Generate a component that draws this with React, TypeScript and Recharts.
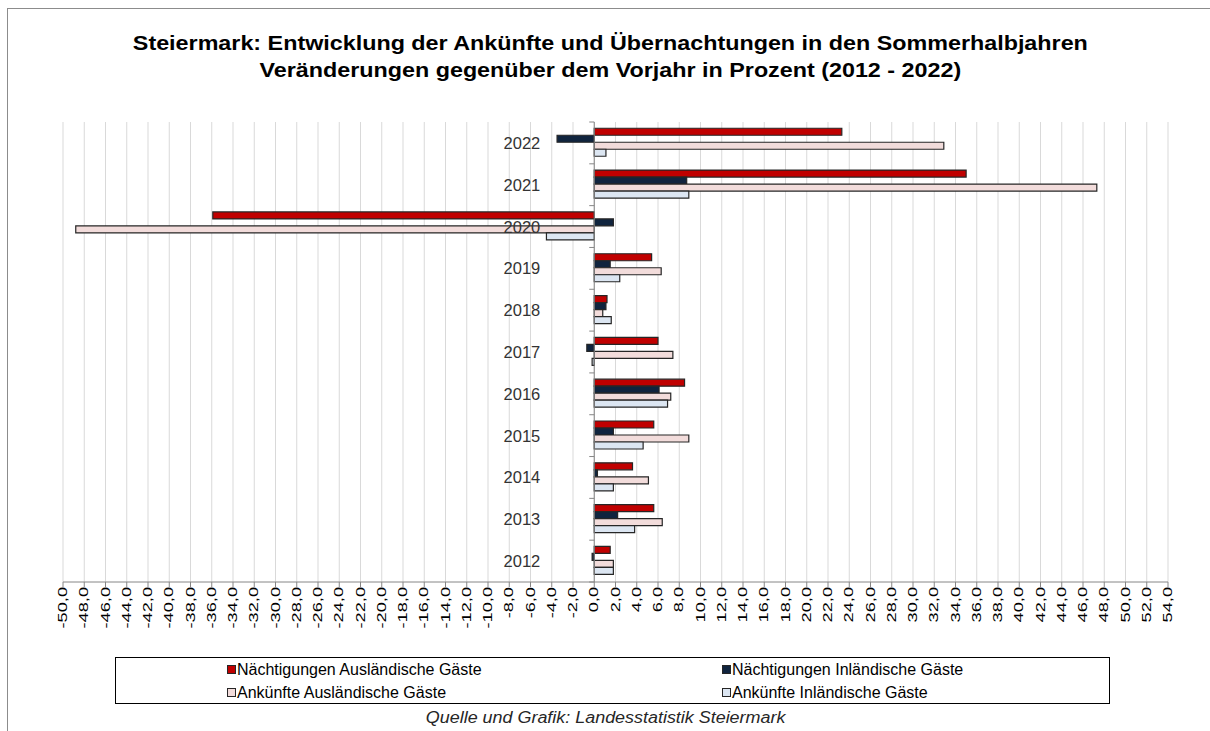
import { Bar, BarChart, CartesianGrid, ReferenceLine, XAxis, YAxis } from "recharts";

const years = ["2022", "2021", "2020", "2019", "2018", "2017", "2016", "2015", "2014", "2013", "2012"];
const naechtAusl = [23.3, 35.0, -35.9, 5.4, 1.2, 6.0, 8.5, 5.6, 3.6, 5.6, 1.5];
const naechtInl = [-3.5, 8.7, 1.8, 1.5, 1.1, -0.7, 6.1, 1.8, 0.3, 2.2, -0.2];
const ankAusl = [32.9, 47.3, -48.8, 6.3, 0.8, 7.4, 7.2, 8.9, 5.1, 6.4, 1.8];
const ankInl = [1.1, 8.9, -4.5, 2.4, 1.6, -0.2, 6.9, 4.6, 1.8, 3.8, 1.8];

const X_MIN = -50;
const X_MAX = 54;
const xTicks = Array.from({ length: (X_MAX - X_MIN) / 2 + 1 }, (_, i) => X_MIN + i * 2);

const series = [
  { key: "naechtAusl", name: "Nächtigungen Ausländische Gäste", color: "#c00000" },
  { key: "naechtInl", name: "Nächtigungen Inländische Gäste", color: "#10243e" },
  { key: "ankAusl", name: "Ankünfte Ausländische Gäste", color: "#f2dcdb" },
  { key: "ankInl", name: "Ankünfte Inländische Gäste", color: "#dce6f2" }
];

const data = years.map((year, i) => ({
  year,
  naechtAusl: naechtAusl[i],
  naechtInl: naechtInl[i],
  ankAusl: ankAusl[i],
  ankInl: ankInl[i]
}));

const WIDTH = 1210;
const HEIGHT = 731;
const Y_AXIS_W = 1;
const margin = { top: 122, right: 42, bottom: 89, left: 63 - Y_AXIS_W };
const plotLeft = margin.left + Y_AXIS_W;
const plotW = WIDTH - plotLeft - margin.right;
const plotH = HEIGHT - margin.top - margin.bottom - 60;
const zeroX = plotLeft + ((0 - X_MIN) / (X_MAX - X_MIN)) * plotW;
const band = plotH / years.length;

const font = "'Liberation Sans', Arial, sans-serif";

function formatTick(v: number) {
  return v.toFixed(1).replace(".", ",");
}

function XTick({ x, y, payload }: any) {
  return (
    <text
      x={0}
      y={0}
      transform={`translate(${x + 4},${y - 2}) rotate(-90) scale(1.4,1)`}
      textAnchor="end"
      fontSize={13}
      fill="#000"
      fontFamily={font}
    >
      {formatTick(payload.value)}
    </text>
  );
}

function YTick({ y, payload, index }: any) {
  const last = index === years.length - 1;
  return (
    <g>
      <line x1={zeroX - 5} x2={zeroX} y1={y - band / 2} y2={y - band / 2} stroke="#868686" />
      {last && <line x1={zeroX - 5} x2={zeroX} y1={y + band / 2} y2={y + band / 2} stroke="#868686" />}
      <text x={zeroX - 54} y={y} dy={6} textAnchor="end" fontSize={16.5} fill="#333" fontFamily={font}>
        {payload.value}
      </text>
    </g>
  );
}

export default function App() {
  return (
    <div style={{ position: "absolute", left: 0, top: 0, width: WIDTH, height: HEIGHT, background: "#fff", fontFamily: font }}>
      <div
        style={{
          position: "absolute",
          left: 7,
          top: 8,
          width: WIDTH - 7,
          height: HEIGHT - 8,
          borderTop: "1px solid #8c8c8c",
          borderLeft: "1px solid #8c8c8c"
        }}
      />
      <div
        style={{
          position: "absolute",
          left: 12,
          top: 29,
          width: WIDTH - 12,
          textAlign: "center",
          fontWeight: "bold",
          fontSize: 21,
          lineHeight: "27px",
          color: "#000",
          transform: "scaleX(1.11)",
          transformOrigin: "605px 0"
        }}
      >
        <div>Steiermark: Entwicklung der Ankünfte und Übernachtungen in den Sommerhalbjahren</div>
        <div>Veränderungen gegenüber dem Vorjahr in Prozent (2012 - 2022)</div>
      </div>
      <div style={{ position: "absolute", left: 0, top: 0 }}>
        <BarChart
          width={WIDTH}
          height={HEIGHT}
          data={data}
          layout="vertical"
          margin={margin}
          barCategoryGap="15%"
          barGap={0}
        >
          <CartesianGrid horizontal={false} stroke="#d9d9d9" />
          <XAxis
            type="number"
            domain={[X_MIN, X_MAX]}
            ticks={xTicks}
            interval={0}
            allowDataOverflow
            height={60}
            stroke="#868686"
            tickSize={5}
            tick={<XTick />}
          />
          <YAxis
            type="category"
            dataKey="year"
            width={Y_AXIS_W}
            axisLine={false}
            tickLine={false}
            tick={<YTick />}
            interval={0}
          />
          {series.map((s) => (
            <Bar
              key={s.key}
              dataKey={s.key}
              name={s.name}
              fill={s.color}
              stroke="#262626"
              strokeWidth={1.2}
              isAnimationActive={false}
            />
          ))}
          <ReferenceLine x={0} stroke="#868686" />
        </BarChart>
      </div>
      <div
        style={{
          position: "absolute",
          left: 115,
          top: 657,
          width: 995,
          height: 47,
          border: "1px solid #000",
          boxSizing: "border-box",
          fontSize: 16,
          color: "#000"
        }}
      >
        {series.map((s, i) => (
          <div
            key={s.key}
            style={{
              position: "absolute",
              left: i % 2 === 0 ? 111 : 606,
              top: i < 2 ? 2 : 25,
              display: "flex",
              alignItems: "center",
              whiteSpace: "nowrap",
              lineHeight: "19px"
            }}
          >
            <span
              style={{
                display: "inline-block",
                width: 7,
                height: 7,
                background: s.color,
                border: "1px solid #262626",
                marginRight: 1
              }}
            />
            {s.name}
          </div>
        ))}
      </div>
      <div
        style={{
          position: "absolute",
          left: 0,
          top: 709,
          width: WIDTH,
          textAlign: "center",
          fontStyle: "italic",
          fontSize: 16,
          color: "#262626",
          transform: "scaleX(1.12)",
          transformOrigin: "600px 0"
        }}
      >
        Quelle und Grafik: Landesstatistik Steiermark
      </div>
    </div>
  );
}
